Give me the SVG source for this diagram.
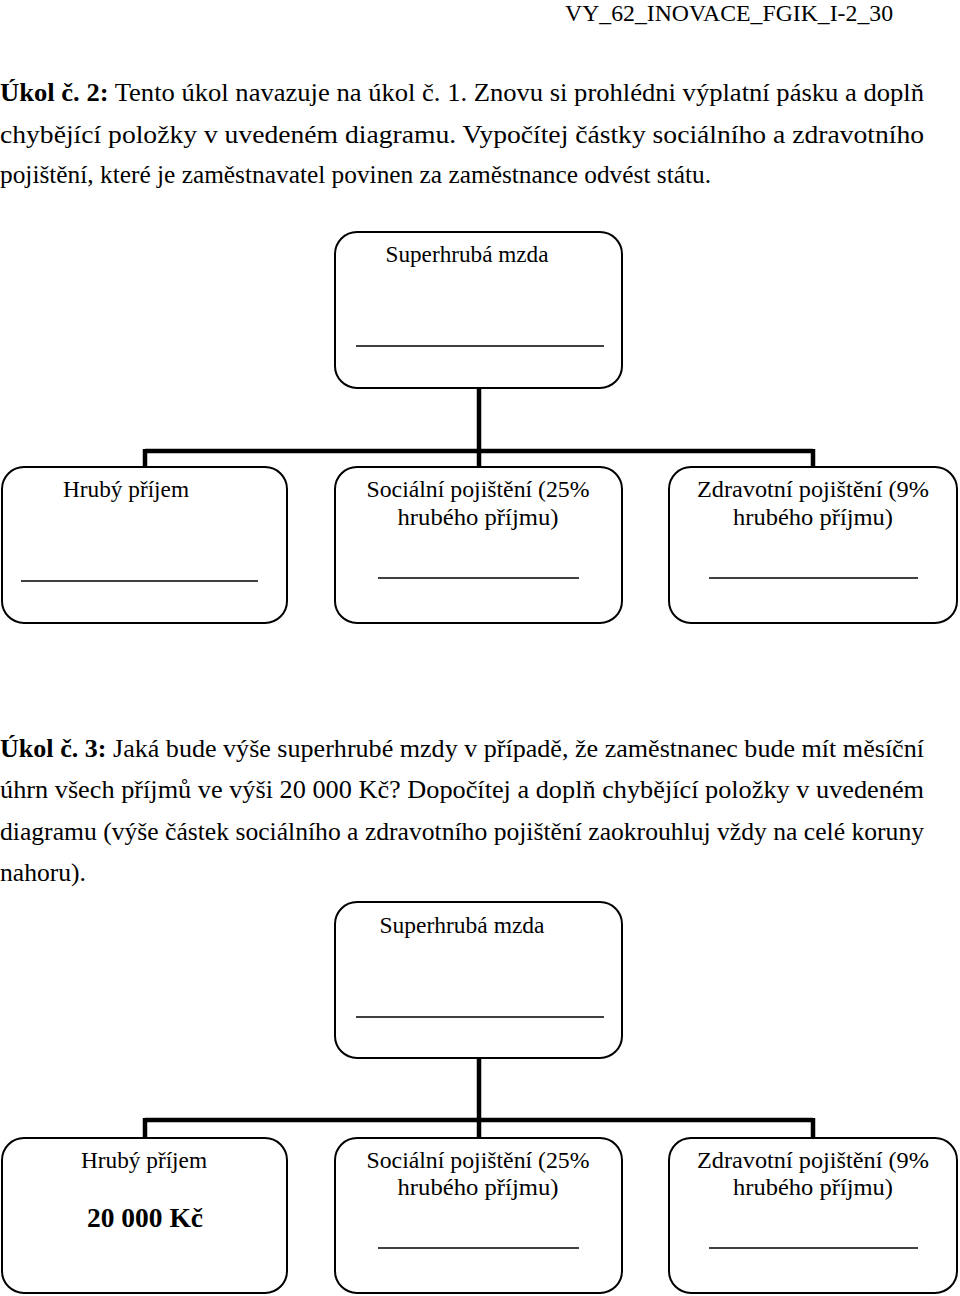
<svg xmlns="http://www.w3.org/2000/svg" width="960" height="1296" viewBox="0 0 960 1296">
<style>
text{font-family:"Liberation Serif","Times New Roman",Times,serif;fill:#000;}
.hdr{font-size:24px;}
.p{font-size:25px;}
.b{font-weight:bold;}
.lbl{font-size:23px;text-anchor:middle;}
.box{fill:#fff;stroke:#000;stroke-width:2;}
.ul{stroke:#000;stroke-width:1.3;}
.con{stroke:#000;stroke-width:4.5;fill:none;}
</style>
<rect width="960" height="1296" fill="#fff"/>
<text class="hdr" x="565" y="21" textLength="328" lengthAdjust="spacingAndGlyphs">VY_62_INOVACE_FGIK_I-2_30</text>
<text class="p" x="0" y="101" textLength="924" lengthAdjust="spacingAndGlyphs"><tspan class="b">Úkol č. 2:</tspan> Tento úkol navazuje na úkol č. 1. Znovu si prohlédni výplatní pásku a doplň</text>
<text class="p" x="0" y="143" textLength="924" lengthAdjust="spacingAndGlyphs">chybějící   položky   v uvedeném   diagramu.   Vypočítej   částky   sociálního   a   zdravotního</text>
<text class="p" x="0" y="183" textLength="711" lengthAdjust="spacingAndGlyphs">pojištění, které je zaměstnavatel povinen za zaměstnance odvést státu.</text>

<g id="connectors1">
<path class="con" d="M479,388 V451 M145,451 H813 M145,449 V467 M479,451 V467 M813,449 V467"/>
</g>
<g id="superhruba1">
<rect class="box" x="335" y="232" width="287" height="156" rx="22"/>
<text class="lbl" x="467" y="262" textLength="163" lengthAdjust="spacingAndGlyphs">Superhrubá mzda</text>
<line class="ul" x1="356" y1="346" x2="604" y2="346"/>
</g>
<g id="hruby1">
<rect class="box" x="2" y="467" width="285" height="156" rx="22"/>
<text class="lbl" x="126" y="497" textLength="126" lengthAdjust="spacingAndGlyphs">Hrubý příjem</text>
<line class="ul" x1="21" y1="581" x2="258" y2="581"/>
</g>
<g id="socialni1">
<rect class="box" x="335" y="467" width="287" height="156" rx="22"/>
<text class="lbl" x="478" y="497" textLength="223" lengthAdjust="spacingAndGlyphs">Sociální pojištění (25%</text>
<text class="lbl" x="478" y="525" textLength="161" lengthAdjust="spacingAndGlyphs">hrubého příjmu)</text>
<line class="ul" x1="378" y1="578" x2="579" y2="578"/>
</g>
<g id="zdravotni1">
<rect class="box" x="669" y="467" width="288" height="156" rx="22"/>
<text class="lbl" x="813" y="497" textLength="232" lengthAdjust="spacingAndGlyphs">Zdravotní pojištění (9%</text>
<text class="lbl" x="813" y="525" textLength="160" lengthAdjust="spacingAndGlyphs">hrubého příjmu)</text>
<line class="ul" x1="709" y1="578" x2="918" y2="578"/>
</g>

<text class="p" x="0" y="757" textLength="924" lengthAdjust="spacingAndGlyphs"><tspan class="b">Úkol č. 3:</tspan> Jaká bude výše superhrubé mzdy v případě, že zaměstnanec bude mít měsíční</text>
<text class="p" x="0" y="798" textLength="924" lengthAdjust="spacingAndGlyphs">úhrn  všech  příjmů  ve  výši  20 000  Kč?  Dopočítej  a  doplň  chybějící  položky  v uvedeném</text>
<text class="p" x="0" y="840" textLength="924" lengthAdjust="spacingAndGlyphs">diagramu (výše částek sociálního a zdravotního pojištění zaokrouhluj vždy na celé koruny</text>
<text class="p" x="0" y="881" textLength="86" lengthAdjust="spacingAndGlyphs">nahoru).</text>

<g id="connectors2">
<path class="con" d="M479,1058 V1120 M145,1120 H813 M145,1118 V1138 M479,1120 V1138 M813,1118 V1138"/>
</g>
<g id="superhruba2">
<rect class="box" x="335" y="902" width="287" height="156" rx="22"/>
<text class="lbl" x="462" y="933" textLength="165" lengthAdjust="spacingAndGlyphs">Superhrubá mzda</text>
<line class="ul" x1="356" y1="1017" x2="604" y2="1017"/>
</g>
<g id="hruby2">
<rect class="box" x="2" y="1138" width="285" height="155" rx="22"/>
<text class="lbl" x="144" y="1168" textLength="126" lengthAdjust="spacingAndGlyphs">Hrubý příjem</text>
<text class="lbl b" x="145" y="1227" style="font-size:28px" textLength="116" lengthAdjust="spacingAndGlyphs">20 000 Kč</text>
</g>
<g id="socialni2">
<rect class="box" x="335" y="1138" width="287" height="155" rx="22"/>
<text class="lbl" x="478" y="1168" textLength="223" lengthAdjust="spacingAndGlyphs">Sociální pojištění (25%</text>
<text class="lbl" x="478" y="1195" textLength="161" lengthAdjust="spacingAndGlyphs">hrubého příjmu)</text>
<line class="ul" x1="378" y1="1248" x2="579" y2="1248"/>
</g>
<g id="zdravotni2">
<rect class="box" x="669" y="1138" width="288" height="155" rx="22"/>
<text class="lbl" x="813" y="1168" textLength="232" lengthAdjust="spacingAndGlyphs">Zdravotní pojištění (9%</text>
<text class="lbl" x="813" y="1195" textLength="160" lengthAdjust="spacingAndGlyphs">hrubého příjmu)</text>
<line class="ul" x1="709" y1="1248" x2="918" y2="1248"/>
</g>
</svg>
